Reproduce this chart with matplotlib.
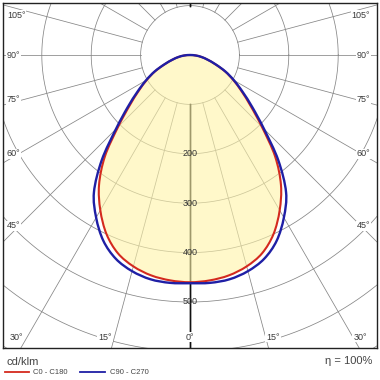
import numpy as np
import matplotlib.pyplot as plt
from matplotlib.path import Path
from matplotlib.patches import PathPatch

plt.rcParams['font.family'] = ['Liberation Sans', 'DejaVu Sans']

# Luminous intensity (cd/klm) vs gamma angle from nadir, half curve (mirrored)
gamma = [0, 5, 10, 15, 20, 25, 30, 35, 40, 45, 50, 55, 60, 65, 70, 75, 80, 85, 90]
c0_c180 = [460, 458, 453, 443, 427, 400, 363, 321, 268, 206, 160, 127, 101, 78, 54, 37, 24, 12, 0]
c90_c270 = [462, 463, 461, 453, 439, 415, 380, 339, 278, 212, 165, 130, 103, 79, 55, 37, 24, 12, 0]

ring_values = [100, 200, 300, 400, 500, 600, 700, 800, 900, 1000]
ring_labels = [200, 300, 400, 500]
spoke_angles = [0, 15, 30, 45, 60, 75, 90, 105, 120, 135, 150, 165, 180]

# angle labels: (text, x px, y px, ha)
angle_labels = [
    ("105°", 7, 15, 'left'), ("90°", 7, 55, 'left'), ("75°", 7, 100, 'left'),
    ("60°", 7, 154, 'left'), ("45°", 7, 226, 'left'),
    ("105°", 370, 15, 'right'), ("90°", 370, 55, 'right'), ("75°", 370, 100, 'right'),
    ("60°", 370, 154, 'right'), ("45°", 370, 226, 'right'),
    ("30°", 16, 337, 'center'), ("15°", 105, 337, 'center'), ("0°", 190, 337, 'center'),
    ("15°", 273, 337, 'center'), ("30°", 360, 337, 'center'),
]

W = 380
fig = plt.figure(figsize=(3.8, 3.8), dpi=100)
ax = fig.add_axes([3 / W, 32 / W, 374 / W, 345 / W])
upp = 1 / 0.494  # cd/klm per pixel
ax.set_xlim(-187 * upp, 187 * upp)
ax.set_ylim(-293 * upp, 52 * upp)
ax.set_xticks([])
ax.set_yticks([])
for s in ax.spines.values():
    s.set_color('#222222')
    s.set_linewidth(1.0)


def curve_path(vals):
    # mirror the half curve into a closed loop, then draw it as a smooth bezier path
    g = np.radians(np.array(gamma, dtype=float))
    v = np.array(vals, dtype=float)
    g = np.concatenate([-g[::-1], g[1:-1]])
    v = np.concatenate([v[::-1], v[1:-1]])
    pts = np.column_stack([v * np.sin(g), -v * np.cos(g)])
    n = len(pts)
    verts = [pts[0]]
    codes = [Path.MOVETO]
    for i in range(n):
        p0, p1, p2, p3 = pts[i - 1], pts[i], pts[(i + 1) % n], pts[(i + 2) % n]
        verts += [p1 + (p2 - p0) / 6, p2 - (p3 - p1) / 6, p2]
        codes += [Path.CURVE4] * 3
    return Path(verts, codes)


# grid
t = np.linspace(0, 2 * np.pi, 721)
for r in ring_values:
    ax.plot(r * np.cos(t), r * np.sin(t), color='#858585', lw=0.55, zorder=1)
for a in spoke_angles:
    ar = np.radians(a)
    col, lw = ('#111111', 1.0) if a in (0, 180) else ('#858585', 0.55)
    for sgn in (1, -1):
        ax.plot([sgn * 100 * np.sin(ar), sgn * 1400 * np.sin(ar)],
                [-100 * np.cos(ar), -1400 * np.cos(ar)], color=col, lw=lw, zorder=1)

red_path = curve_path(c0_c180)
blue_path = curve_path(c90_c270)
ax.add_patch(PathPatch(red_path, facecolor='#fff4a8', alpha=0.6, lw=0, zorder=2))
ax.add_patch(PathPatch(red_path, facecolor='none', edgecolor='#d42a1e', lw=1.5, zorder=3))
ax.add_patch(PathPatch(blue_path, facecolor='none', edgecolor='#1f1fa5', lw=1.7, zorder=4))

for v in ring_labels:
    ax.text(0, -v, str(v), ha='center', va='center', fontsize=6.5, color='#333333', zorder=5)

for txt, px, py, ha in angle_labels:
    fig.text(px / W, 1 - py / W, txt, ha=ha, va='center', fontsize=6.5, color='#3a3a3a',
             bbox=dict(facecolor='white', edgecolor='none', pad=0.6), zorder=6)

# legend area
fig.text(7 / W, 1 - 362 / W, "cd/klm", fontsize=8, color='#444444', va='center')
fig.text(372 / W, 1 - 361 / W, "η = 100%", fontsize=8, color='#444444', va='center', ha='right')
fig.add_artist(plt.Line2D([5 / W, 29 / W], [1 - 372 / W] * 2, color='#d42a1e', lw=1.3))
fig.text(33 / W, 1 - 372 / W, "C0 - C180", fontsize=5.5, color='#444444', va='center')
fig.add_artist(plt.Line2D([80 / W, 105 / W], [1 - 372 / W] * 2, color='#1f1fa5', lw=1.3))
fig.text(110 / W, 1 - 372 / W, "C90 - C270", fontsize=5.5, color='#444444', va='center')

fig.savefig("out.png", dpi=100)
